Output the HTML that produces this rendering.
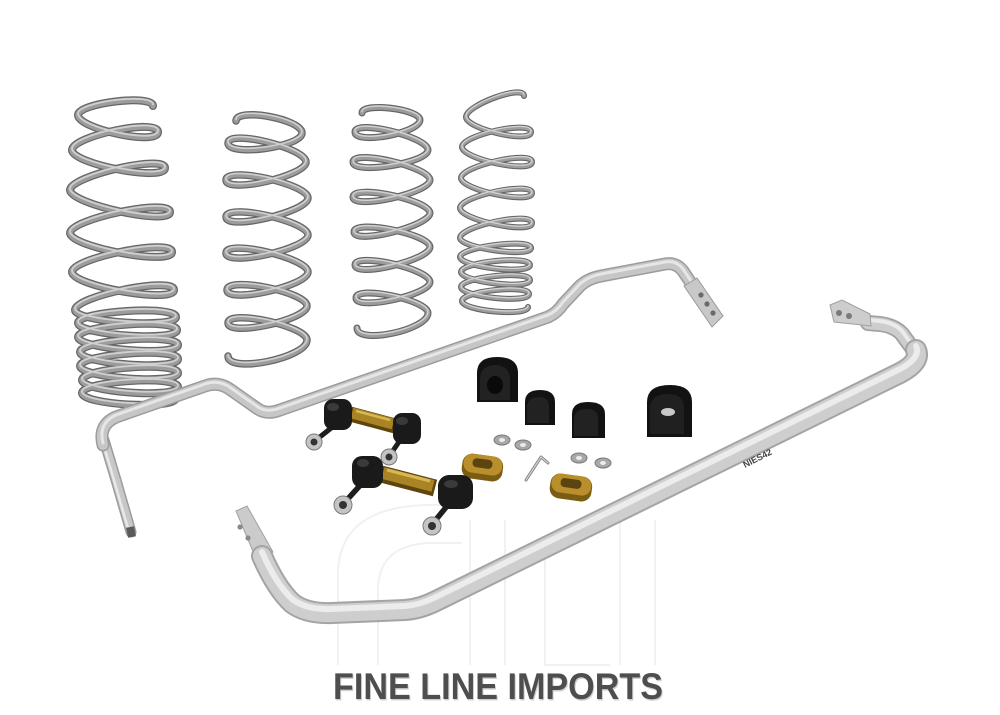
<!DOCTYPE html>
<html>
<head>
<meta charset="utf-8">
<style>
  html,body{margin:0;padding:0;background:#fff;}
  body{width:1000px;height:715px;overflow:hidden;}
  svg{display:block;}
</style>
</head>
<body>
<svg width="1000" height="715" viewBox="0 0 1000 715" xmlns="http://www.w3.org/2000/svg">
  <defs>
    <path id="s1" fill="none" d="M153,106 C153,94 78,103 78,115 C78,129 158,146 158,132 C158,118 72,136 72,150 C72,164 165,182 165,168 C165,154 70,176 70,190 C70,204 170,226 170,212 C170,198 70,219 70,233 C70,247 172,266 172,252 C172,238 72,258 72,272 C72,286 174,304 174,290 C174,276 75,296 75,310 C75,322 176,329 176,317 C176,305 78,311 78,323 C78,335 177,342 177,330 C177,318 78,325 78,337 C78,349 178,357 178,345 C178,333 80,340 80,352 C80,364 178,371 178,359 C178,347 80,354 80,366 C80,378 178,385 178,373 C178,361 82,368 82,380 C82,392 178,399 178,387 C178,375 82,381 82,393 C82,405 176,410 176,398"/>
    <path id="s2" fill="none" d="M236,121 C236,107 302,119 302,133 C302,147 228,157 228,143 C228,129 306,148 306,162 C306,176 226,194 226,180 C226,166 308,184 308,198 C308,212 226,231 226,217 C226,203 308,221 308,235 C308,249 226,267 226,253 C226,239 308,258 308,272 C308,286 227,304 227,290 C227,276 307,292 307,306 C307,320 228,337 228,323 C228,309 307,326 307,340 C307,358 228,374 228,356"/>
    <path id="s3" fill="none" d="M362,113 C362,102 420,109 420,120 C420,133 355,145 355,132 C355,119 428,137 428,150 C428,163 353,175 353,162 C353,149 430,167 430,180 C430,193 353,210 353,197 C353,184 430,200 430,213 C430,226 354,245 354,232 C354,219 430,234 430,247 C430,260 355,278 355,265 C355,252 430,269 430,282 C430,295 356,311 356,298 C356,285 428,300 428,313 C428,330 357,345 357,328"/>
    <path id="s4" fill="none" d="M524,96 C524,84 466,105 466,117 C466,129 531,144 531,132 C531,120 462,135 462,147 C462,159 532,174 532,162 C532,150 461,166 461,178 C461,190 532,205 532,193 C532,181 460,196 460,208 C460,220 532,235 532,223 C532,211 460,226 460,238 C460,248 531,258 531,248 C531,238 460,247 460,257 C460,267 530,275 530,265 C530,255 461,262 461,272 C461,282 530,290 530,280 C530,270 461,277 461,287 C461,297 529,304 529,294 C529,284 462,291 462,301 C462,311 528,317 528,307"/>
    <path id="rear" fill="none" d="M103,445 Q98,425 116,417 L205,386 Q219,381 231,390 L258,409 Q267,415 280,410 L548,317 Q557,313 563,304 L578,288 Q586,279 601,276 L665,264 Q676,262 683,271 L691,283"/>
    <path id="rearleg" fill="none" d="M104,440 L116,480 L131,532"/>
    <path id="front" fill="none" d="M262,556 Q276,588 292,603 Q306,614 332,613 L405,610 Q420,609 436,601 L900,373 Q921,362 916,350"/>
    <path id="frontend" fill="none" d="M918,356 L902,334 Q895,326 880,324 L868,323"/>
  </defs>

  <rect width="1000" height="715" fill="#ffffff"/>

  <!-- faint watermark -->
  <g fill="none" stroke="#f1f1f1" stroke-width="2">
    <path d="M338,665 L338,575 Q338,508 425,505 L462,505"/>
    <path d="M378,665 L378,590 Q378,545 430,543 L462,543"/>
    <path d="M470,520 L470,665"/>
    <path d="M505,520 L505,665"/>
    <path d="M545,540 L545,665 L610,665"/>
    <path d="M620,520 L620,665"/>
    <path d="M655,520 L655,665"/>
  </g>

  <!-- springs -->
  <g stroke-linecap="round" fill="none">
    <use href="#s1" stroke="#666666" stroke-width="8"/>
    <use href="#s1" stroke="#9c9c9c" stroke-width="5.5"/>
    <use href="#s1" stroke="#d0d0d0" stroke-width="1.8" transform="translate(0,-1.5)"/>

    <use href="#s2" stroke="#666666" stroke-width="7.5"/>
    <use href="#s2" stroke="#9c9c9c" stroke-width="5"/>
    <use href="#s2" stroke="#d0d0d0" stroke-width="1.6" transform="translate(0,-1.5)"/>

    <use href="#s3" stroke="#666666" stroke-width="7"/>
    <use href="#s3" stroke="#9c9c9c" stroke-width="4.6"/>
    <use href="#s3" stroke="#d0d0d0" stroke-width="1.5" transform="translate(0,-1.4)"/>

    <use href="#s4" stroke="#666666" stroke-width="6"/>
    <use href="#s4" stroke="#9e9e9e" stroke-width="3.8"/>
    <use href="#s4" stroke="#d2d2d2" stroke-width="1.3" transform="translate(0,-1.2)"/>
  </g>

  <!-- rear bar -->
  <g fill="none" stroke-linecap="round" stroke-linejoin="round">
    <use href="#rearleg" stroke="#9c9c9c" stroke-width="11"/>
    <use href="#rearleg" stroke="#c8c8c8" stroke-width="8"/>
    <use href="#rearleg" stroke="#e8e8e8" stroke-width="2.5" transform="translate(-2,0)"/>
    <use href="#rear" stroke="#9c9c9c" stroke-width="13"/>
    <use href="#rear" stroke="#c6c6c6" stroke-width="10"/>
    <use href="#rear" stroke="#e6e6e6" stroke-width="3" transform="translate(0,-2)"/>
  </g>
  <line x1="130" y1="527" x2="132" y2="537" stroke="#5a5a5a" stroke-width="8"/>
  <!-- rear right tab -->
  <polygon points="684,286 697,278 723,316 712,327" fill="#c8c8c8" stroke="#9a9a9a" stroke-width="1"/>
  <circle cx="701" cy="295" r="2.6" fill="#6a6a6a"/>
  <circle cx="707" cy="304" r="2.6" fill="#6a6a6a"/>
  <circle cx="713" cy="313" r="2.6" fill="#6a6a6a"/>

  <!-- front bar -->
  <polygon points="236,511 247,506 273,552 257,561" fill="#cbcbcb" stroke="#a0a0a0" stroke-width="1"/>
  <circle cx="240" cy="527" r="2.6" fill="#8a8a8a"/>
  <circle cx="248" cy="538" r="2.6" fill="#8a8a8a"/>
  <g fill="none" stroke-linecap="round" stroke-linejoin="round">
    <use href="#frontend" stroke="#a2a2a2" stroke-width="16"/>
    <use href="#frontend" stroke="#cdcdcd" stroke-width="12.5"/>
    <use href="#frontend" stroke="#ebebeb" stroke-width="4" transform="translate(0,-3)"/>
    <use href="#front" stroke="#a4a4a4" stroke-width="22"/>
    <use href="#front" stroke="#cecece" stroke-width="18"/>
    <use href="#front" stroke="#ececec" stroke-width="6" transform="translate(0,-4)"/>
  </g>
  <polygon points="830,305 842,300 870,314 871,326 834,322" fill="#cdcdcd" stroke="#a0a0a0" stroke-width="1"/>
  <circle cx="839" cy="313" r="3" fill="#7a7a7a"/>
  <circle cx="849" cy="316" r="3" fill="#7a7a7a"/>
  <text x="0" y="0" transform="translate(745,468) rotate(-27)" font-family="Liberation Sans, sans-serif" font-size="9" font-weight="bold" fill="#444">NIES42</text>

  <!-- bushings -->
  <g>
    <path d="M477,402 L477,373 Q477,357 497,357 Q518,357 518,373 L518,402 Z" fill="#121212"/>
    <path d="M480,400 L480,378 Q481,365 496,365 Q510,366 510,380 L510,400 Z" fill="#222"/>
    <ellipse cx="495" cy="385" rx="8" ry="9" fill="#0a0a0a"/>

    <path d="M525,425 L525,402 Q525,390 540,390 Q555,390 555,402 L555,425 Z" fill="#121212"/>
    <path d="M527,423 L527,406 Q528,397 539,397 Q549,397 549,407 L549,423 Z" fill="#222"/>

    <path d="M572,438 L572,414 Q572,402 588,402 Q605,402 605,414 L605,438 Z" fill="#121212"/>
    <path d="M574,436 L574,418 Q575,409 587,409 Q598,409 598,419 L598,436 Z" fill="#222"/>

    <path d="M647,437 L647,402 Q647,385 670,385 Q692,385 692,402 L692,437 Z" fill="#121212"/>
    <path d="M650,434 L650,408 Q651,394 668,394 Q684,394 684,408 L684,434 Z" fill="#202020"/>
    <ellipse cx="668" cy="412" rx="7" ry="4" fill="#c8c8c8"/>
  </g>

  <!-- washers -->
  <g stroke="#7a7a7a" stroke-width="1">
    <ellipse cx="502" cy="440" rx="8" ry="5" fill="#a8a8a8"/>
    <ellipse cx="523" cy="445" rx="8" ry="5" fill="#a8a8a8"/>
    <ellipse cx="579" cy="458" rx="8" ry="5" fill="#a8a8a8"/>
    <ellipse cx="603" cy="463" rx="8" ry="5" fill="#a8a8a8"/>
  </g>
  <g fill="#ececec">
    <ellipse cx="502" cy="440" rx="3" ry="2"/>
    <ellipse cx="523" cy="445" rx="3" ry="2"/>
    <ellipse cx="579" cy="458" rx="3" ry="2"/>
    <ellipse cx="603" cy="463" rx="3" ry="2"/>
  </g>

  <!-- allen key -->
  <polyline points="526,480 541,457 548,463" fill="none" stroke="#8a8a8a" stroke-width="3" stroke-linecap="round" stroke-linejoin="round"/>
  <polyline points="526,480 541,457 548,463" fill="none" stroke="#dcdcdc" stroke-width="1" stroke-linecap="round"/>

  <!-- gold brackets -->
  <g>
    <rect x="462" y="455" width="41" height="25" rx="10" fill="#7a5c12" transform="rotate(8 482 467)"/>
    <rect x="463" y="455" width="39" height="19" rx="9" fill="#b98f2c" transform="rotate(8 482 467)"/>
    <rect x="472" y="459" width="20" height="9" rx="4" fill="#5c4410" transform="rotate(8 482 467)"/>
    <rect x="550" y="475" width="42" height="25" rx="10" fill="#7a5c12" transform="rotate(8 571 487)"/>
    <rect x="551" y="475" width="40" height="19" rx="9" fill="#b98f2c" transform="rotate(8 571 487)"/>
    <rect x="560" y="479" width="21" height="9" rx="4" fill="#5c4410" transform="rotate(8 571 487)"/>
  </g>

  <!-- end link 1 -->
  <g>
    <line x1="335" y1="425" x2="316" y2="440" stroke="#1e1e1e" stroke-width="5"/>
    <line x1="403" y1="436" x2="390" y2="455" stroke="#1e1e1e" stroke-width="5"/>
    <circle cx="314" cy="442" r="8" fill="#c4c4c4" stroke="#7a7a7a" stroke-width="1"/>
    <circle cx="314" cy="442" r="3.5" fill="#333"/>
    <circle cx="389" cy="457" r="8" fill="#c4c4c4" stroke="#7a7a7a" stroke-width="1"/>
    <circle cx="389" cy="457" r="3.5" fill="#333"/>
    <line x1="350" y1="414" x2="395" y2="426" stroke="#5e4510" stroke-width="15"/>
    <line x1="352" y1="413" x2="393" y2="424" stroke="#a98424" stroke-width="11"/>
    <line x1="356" y1="411" x2="390" y2="420" stroke="#d8b854" stroke-width="2.5"/>
    <rect x="324" y="399" width="28" height="31" rx="9" fill="#1a1a1a"/>
    <ellipse cx="333" cy="407" rx="6" ry="4" fill="#3a3a3a"/>
    <rect x="393" y="413" width="28" height="31" rx="9" fill="#1a1a1a"/>
    <ellipse cx="402" cy="421" rx="6" ry="4" fill="#3a3a3a"/>
  </g>

  <!-- end link 2 -->
  <g>
    <line x1="365" y1="480" x2="345" y2="502" stroke="#1e1e1e" stroke-width="5.5"/>
    <line x1="452" y1="500" x2="434" y2="522" stroke="#1e1e1e" stroke-width="5.5"/>
    <circle cx="343" cy="505" r="9" fill="#c4c4c4" stroke="#7a7a7a" stroke-width="1"/>
    <circle cx="343" cy="505" r="4" fill="#333"/>
    <circle cx="432" cy="526" r="9" fill="#c4c4c4" stroke="#7a7a7a" stroke-width="1"/>
    <circle cx="432" cy="526" r="4" fill="#333"/>
    <line x1="381" y1="474" x2="435" y2="488" stroke="#5e4510" stroke-width="17"/>
    <line x1="383" y1="473" x2="433" y2="486" stroke="#a98424" stroke-width="12"/>
    <line x1="387" y1="470" x2="430" y2="481" stroke="#d8b854" stroke-width="3"/>
    <rect x="352" y="456" width="31" height="32" rx="10" fill="#1a1a1a"/>
    <ellipse cx="363" cy="463" rx="6" ry="4" fill="#3a3a3a"/>
    <rect x="438" y="475" width="35" height="34" rx="11" fill="#1a1a1a"/>
    <ellipse cx="451" cy="484" rx="7" ry="4" fill="#3a3a3a"/>
  </g>

  <!-- logo -->
  <text x="333" y="699" font-family="Liberation Sans, sans-serif" font-weight="bold" font-size="37" fill="#d0d0d0" textLength="330" lengthAdjust="spacingAndGlyphs" transform="translate(1,1.5)">FINE LINE IMPORTS</text>
  <text x="333" y="699" font-family="Liberation Sans, sans-serif" font-weight="bold" font-size="37" fill="#4e4e4e" textLength="330" lengthAdjust="spacingAndGlyphs">FINE LINE IMPORTS</text>
</svg>
</body>
</html>
